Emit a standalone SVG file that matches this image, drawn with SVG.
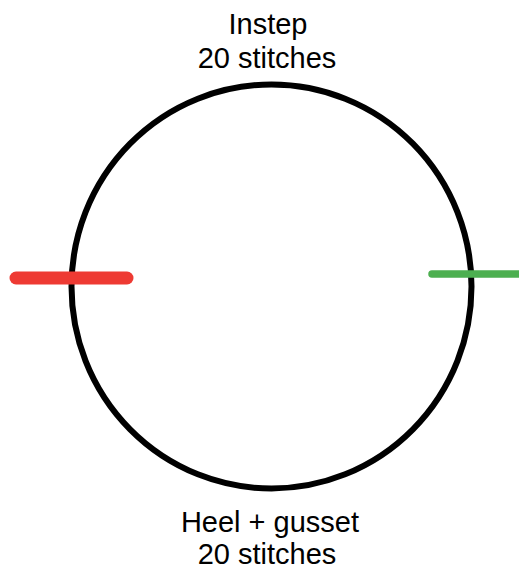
<svg xmlns="http://www.w3.org/2000/svg" width="519" height="569" viewBox="0 0 519 569">
<style>
.lbl{font-family:"Liberation Sans",Arial,sans-serif;font-size:29px;fill:#000;text-anchor:middle}
</style>
<rect width="519" height="569" fill="#fff"/>
<g id="round">
<ellipse cx="271.5" cy="286.5" rx="200" ry="202" fill="none" stroke="#000" stroke-width="6"/>
</g>
<g id="connectors">
<line x1="16" y1="278" x2="127" y2="278" stroke="#ee3a33" stroke-width="13" stroke-linecap="round"/>
<line x1="432" y1="274" x2="525" y2="274" stroke="#4caf50" stroke-width="7.5" stroke-linecap="round"/>
</g>
<g id="instep">
<text class="lbl" x="268" y="34">Instep</text>
<text class="lbl" x="267" y="68">20 stitches</text>
</g>
<g id="heel">
<text class="lbl" x="270" y="532">Heel + gusset</text>
<text class="lbl" x="267" y="564">20 stitches</text>
</g>
</svg>
